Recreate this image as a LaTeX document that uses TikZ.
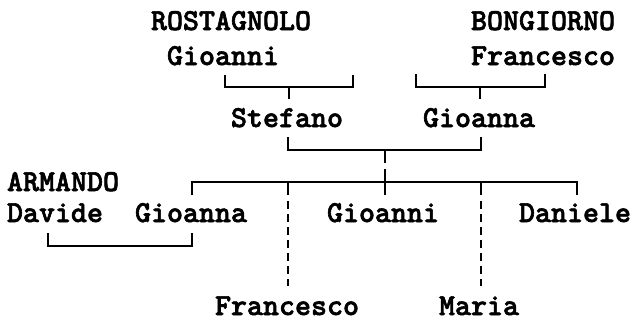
\documentclass[tikz,border=0pt]{standalone}
\usepackage{fontspec}
\newfontfamily\monob{lmmonolt10-bold.otf}[FakeBold=2]
\tikzset{
  lbl/.style={anchor=base west, inner sep=0pt, outer sep=0pt, text depth=0pt,
    font=\monob\fontsize{30.48}{34}\selectfont},
  link/.style={line width=1.6pt, line cap=butt, line join=miter},
  dlink/.style={link, dash pattern=on 8pt off 5pt}
}
\begin{document}
\begin{tikzpicture}[x=1pt, y=-1pt]
\useasboundingbox (0,0) rectangle (636,322);
% text nodes (cell width 16pt)
\node[lbl] (rost) at (151,30) {ROSTAGNOLO};
\node[lbl] (gioanni1) at (167,65) {Gioanni};
\node[lbl] (bong) at (471,30) {BONGIORNO};
\node[lbl] (franc1) at (471,65) {Francesco};
\node[lbl] (stefano) at (231,127) {Stefano};
\node[lbl] (gioanna1) at (423,127) {Gioanna};
\node[lbl] (arm) at (7,191) {ARMANDO};
\node[lbl] (davide) at (7,222) {Davide};
\node[lbl] (gioanna2) at (135,222) {Gioanna};
\node[lbl] (gioanni2) at (327,222) {Gioanni};
\node[lbl] (daniele) at (519,222) {Daniele};
\node[lbl] (franc2) at (215,315) {Francesco};
\node[lbl] (maria) at (439,315) {Maria};
% junction coordinates
\coordinate (a1) at (225,75);  \coordinate (a2) at (353,75);  \coordinate (am) at (289,87);
\coordinate (b1) at (416,74);  \coordinate (b2) at (545,74);  \coordinate (bm) at (480,87);
\coordinate (c1) at (288,137); \coordinate (c2) at (481,137); \coordinate (cm) at (385,150);
\coordinate (d1) at (48,233);  \coordinate (d2) at (192,233);
\coordinate (bar1) at (192,182); \coordinate (bar2) at (577,182);
% parents of Stefano
\draw[link] (a1) |- (am) -| (a2);
\draw[link] (am) -- ++(0,12);
% parents of Gioanna
\draw[link] (b1) |- (bm) -| (b2);
\draw[link] (bm) -- ++(0,12);
% Stefano -- Gioanna
\draw[link] (c1) |- (cm) -| (c2);
\draw[link] (cm) -- ++(0,13);
\draw[link] (385,169) -- (385,195);
% children bar
\draw[link] (bar1) ++(0,13) -- (bar1) -- (bar2) -- ++(0,13);
\draw[link] (288,182) -- (288,195);
\draw[dlink] (288,201) -- (288,286);
\draw[link] (481,182) -- (481,195);
\draw[dlink] (481,201) -- (481,286);
% Davide -- Gioanna
\draw[link] (d1) |- (48,246) -| (d2);
\end{tikzpicture}
\end{document}
